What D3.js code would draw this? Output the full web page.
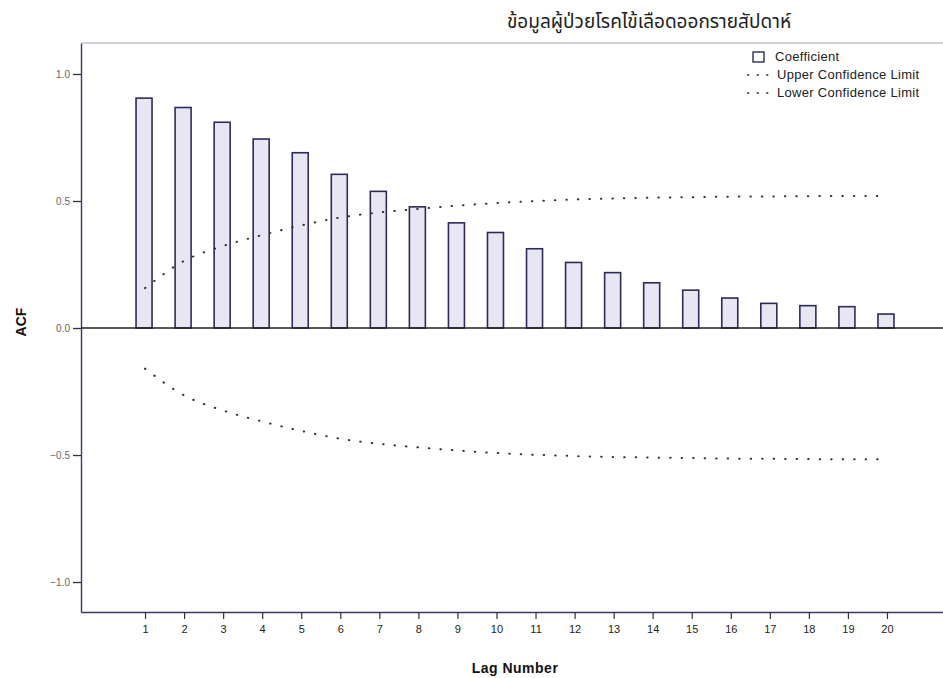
<!DOCTYPE html>
<html>
<head>
<meta charset="utf-8">
<script src="https://cdn.jsdelivr.net/npm/d3@7"></script>
<style>
    body { margin: 0; background: #fff; }
    #chart { width: 943px; height: 678px; }
    .tick text { font-family: "Liberation Sans", Arial, sans-serif; }
</style>
</head>
<body>
<div id="chart"></div>
<script>
// lags + ACF values
let lags = d3.range(1, 21);
let coefficients = [0.905, 0.868, 0.81, 0.744, 0.69, 0.605, 0.538, 0.477, 0.414, 0.376,
                    0.312, 0.258, 0.218, 0.178, 0.149, 0.118, 0.097, 0.088, 0.084, 0.055];
let upperLimit = [0.157, 0.264, 0.323, 0.366, 0.404, 0.435, 0.455, 0.469, 0.482, 0.492,
                  0.5, 0.506, 0.51, 0.513, 0.515, 0.517, 0.518, 0.519, 0.52, 0.52];
let lowerLimit = [-0.16, -0.265, -0.325, -0.368, -0.405, -0.436, -0.456, -0.47, -0.482, -0.492,
                  -0.499, -0.504, -0.508, -0.51, -0.512, -0.514, -0.515, -0.516, -0.517, -0.517];
let yTicks = [-1.0, -0.5, 0.0, 0.5, 1.0];
let legendItems = ["Coefficient", "Upper Confidence Limit", "Lower Confidence Limit"];

let margin = {top: 43, right: 0, bottom: 66, left: 81};
let width = 943 - margin.left - margin.right;
let height = 678 - margin.top - margin.bottom;

let svg = d3.select("#chart").append("svg")
    .attr("width", 943)
    .attr("height", 678);

let g = svg.append("g")
    .attr("transform", "translate(" + margin.left + "," + margin.top + ")");

// scales
let x = d3.scaleLinear().domain([-0.64, 21.435]).range([0, width]);
let y = d3.scaleLinear().domain([-1.118, 1.122]).range([height, 0]);

// top frame line (under the title)
svg.append("line")
    .attr("x1", margin.left).attr("x2", 943)
    .attr("y1", margin.top).attr("y2", margin.top)
    .attr("stroke", "#a4a4b8")
    .attr("stroke-width", 1);

// title
svg.append("text")
    .attr("x", 649)
    .attr("y", 28)
    .attr("text-anchor", "middle")
    .style("font-family", "'Noto Sans Thai', 'DejaVu Sans', sans-serif")
    .style("font-size", "19px")
    .style("fill", "#222")
    .text("ข้อมูลผู้ป่วยโรคไข้เลือดออกรายสัปดาห์");

// y axis
let yAxis = g.append("g")
    .call(d3.axisLeft(y).tickValues(yTicks).tickSize(8).tickSizeOuter(0).tickPadding(3)
        .tickFormat(d3.format(".1f")));
yAxis.select(".domain").attr("stroke", "#3a3a60").attr("stroke-width", 1.4);
yAxis.selectAll(".tick line").attr("stroke", "#333").attr("stroke-width", 1.3);
yAxis.selectAll(".tick text").style("font-size", "10px").style("fill", "#666");

// x axis
let xAxis = g.append("g")
    .attr("transform", "translate(0," + height + ")")
    .call(d3.axisBottom(x).tickValues(lags).tickSize(7).tickSizeOuter(0).tickPadding(6)
        .tickFormat(d3.format("d")));
xAxis.select(".domain").attr("stroke", "#3a3a60").attr("stroke-width", 1.4);
xAxis.selectAll(".tick line").attr("stroke", "#333").attr("stroke-width", 1.2);
xAxis.selectAll(".tick text").style("font-size", "11px").style("fill", "#222");

// axis titles
svg.append("text")
    .attr("transform", "translate(26,322) rotate(-90)")
    .attr("text-anchor", "middle")
    .style("font-family", "'Liberation Sans', Arial, sans-serif")
    .style("font-weight", "bold")
    .style("font-size", "14px")
    .style("fill", "#111")
    .text("ACF");

svg.append("text")
    .attr("x", 515)
    .attr("y", 673)
    .attr("text-anchor", "middle")
    .style("font-family", "'Liberation Sans', Arial, sans-serif")
    .style("font-weight", "bold")
    .style("font-size", "14px")
    .style("letter-spacing", "0.5px")
    .style("fill", "#111")
    .text("Lag Number");

// bars
let barWidth = 16;
g.selectAll(".bar")
    .data(lags)
    .enter()
    .append("rect")
    .attr("class", "bar")
    .attr("x", (d, i) => x(d) - barWidth / 2 - 1)
    .attr("y", (d, i) => y(coefficients[i]))
    .attr("width", barWidth)
    .attr("height", (d, i) => y(0) - y(coefficients[i]))
    .attr("fill", "#e8e6f3")
    .attr("stroke", "#2c2c58")
    .attr("stroke-width", 1.6);

// zero reference line
g.append("line")
    .attr("x1", 0).attr("x2", width)
    .attr("y1", y(0)).attr("y2", y(0))
    .attr("stroke", "#222")
    .attr("stroke-width", 1.6);

// confidence limits
let line = d3.line()
    .x(d => x(d[0]))
    .y(d => y(d[1]))
    .curve(d3.curveMonotoneX);

[upperLimit, lowerLimit].forEach(function (lim) {
    g.append("path")
        .datum(lags.map((d, i) => [d, lim[i]]))
        .attr("d", line)
        .attr("fill", "none")
        .attr("stroke", "#333")
        .attr("stroke-width", 2)
        .attr("stroke-linecap", "round")
        .attr("stroke-dasharray", "0.5,11");
});

// legend
let legend = svg.append("g")
    .attr("transform", "translate(753,0)");

legend.append("rect")
    .attr("x", 0).attr("y", 52)
    .attr("width", 11).attr("height", 10)
    .attr("fill", "#fff")
    .attr("stroke", "#2c2c58")
    .attr("stroke-width", 1.4);

[1, 2].forEach(function (i) {
    legend.append("line")
        .attr("x1", -5).attr("x2", 20)
        .attr("y1", 57 + i * 18).attr("y2", 57 + i * 18)
        .attr("stroke", "#555")
        .attr("stroke-width", 2)
        .attr("stroke-linecap", "round")
        .attr("stroke-dasharray", "0.5,9");
});

legend.selectAll(".legend-text")
    .data(legendItems)
    .enter()
    .append("text")
    .attr("class", "legend-text")
    .attr("x", (d, i) => i == 0 ? 22 : 24)
    .attr("y", (d, i) => 61 + i * 18)
    .style("font-family", "'Liberation Sans', Arial, sans-serif")
    .style("font-size", "13px")
    .style("letter-spacing", "0.3px")
    .style("fill", "#222")
    .text(d => d);
</script>
</body>
</html>
